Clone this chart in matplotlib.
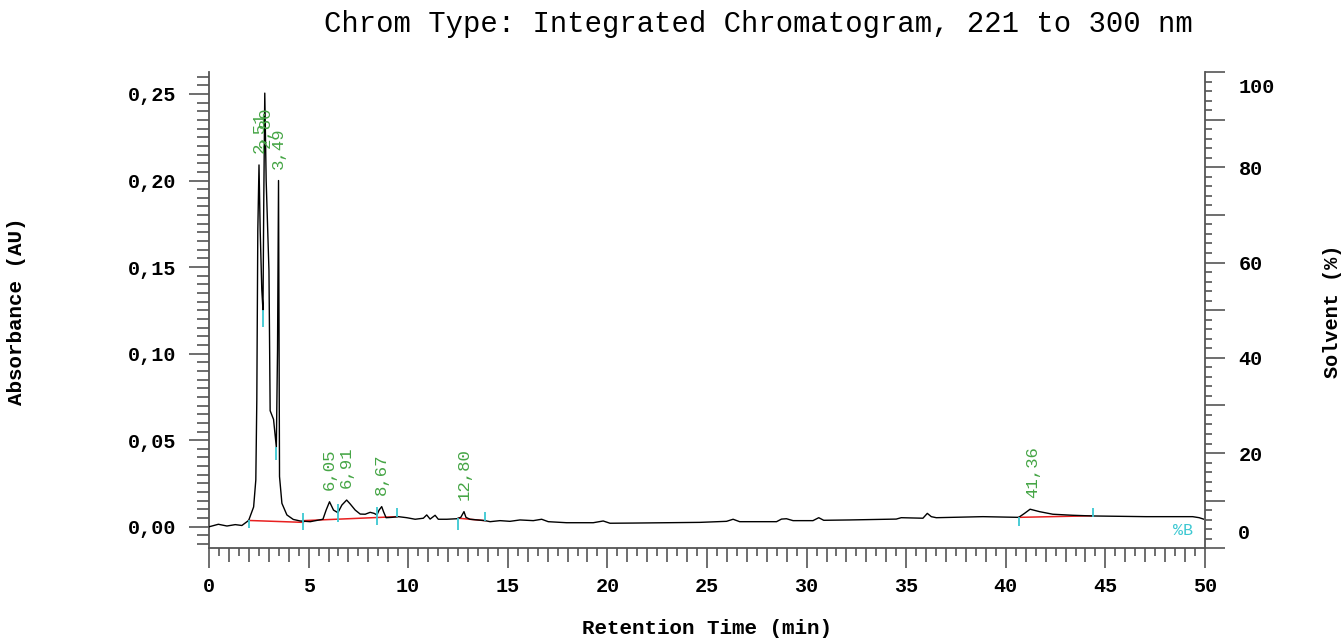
import numpy as np
import matplotlib
matplotlib.use("Agg")
import matplotlib.pyplot as plt
from matplotlib.ticker import MultipleLocator, FuncFormatter

# chromatogram trace (min, AU)
times = [0.02, 0.47, 0.90, 1.32, 1.65, 1.99, 2.24, 2.35, 2.40, 2.45,
         2.51, 2.57, 2.65, 2.71, 2.75, 2.80, 2.87, 3.01, 3.07, 3.24,
         3.38, 3.44, 3.49, 3.54, 3.66, 3.91, 4.23, 4.58, 5.08, 5.72,
         5.88, 6.05, 6.25, 6.47, 6.67, 6.91, 7.09, 7.34, 7.59, 7.84,
         8.09, 8.29, 8.43, 8.54, 8.67, 8.76, 8.89, 9.18, 9.51, 9.93,
         10.35, 10.76, 10.93, 11.10, 11.35, 11.51, 11.94, 12.44, 12.64, 12.80,
         12.90, 13.10, 13.86, 14.11, 14.61, 15.11, 15.61, 16.28, 16.70, 17.03,
         17.95, 19.29, 19.79, 20.13, 21.29, 24.64, 25.98, 26.31, 26.64, 28.49,
         28.74, 28.99, 29.32, 30.32, 30.61, 30.86, 32.16, 34.50, 34.75, 35.84,
         36.06, 36.26, 36.51, 38.85, 40.65, 40.94, 41.22, 41.69, 42.36, 43.36,
         44.36, 47.04, 49.38, 49.71, 49.92]
absorb = [0.0000, 0.0014, 0.0004, 0.0012, 0.0007, 0.0036, 0.0114, 0.0270, 0.0730, 0.1710,
          0.2090, 0.1710, 0.1370, 0.1250, 0.1890, 0.2505, 0.2000, 0.1480, 0.0670, 0.0620,
          0.0460, 0.1020, 0.2000, 0.0290, 0.0135, 0.0068, 0.0042, 0.0033, 0.0029, 0.0043,
          0.0096, 0.0144, 0.0096, 0.0081, 0.0125, 0.0154, 0.0131, 0.0096, 0.0073, 0.0072,
          0.0083, 0.0077, 0.0068, 0.0096, 0.0116, 0.0087, 0.0052, 0.0054, 0.0058, 0.0052,
          0.0043, 0.0049, 0.0068, 0.0044, 0.0066, 0.0043, 0.0043, 0.0046, 0.0054, 0.0087,
          0.0054, 0.0043, 0.0035, 0.0029, 0.0035, 0.0031, 0.0039, 0.0035, 0.0043, 0.0029,
          0.0023, 0.0023, 0.0033, 0.0020, 0.0021, 0.0025, 0.0031, 0.0043, 0.0029, 0.0029,
          0.0044, 0.0046, 0.0035, 0.0035, 0.0052, 0.0037, 0.0039, 0.0044, 0.0052, 0.0049,
          0.0077, 0.0058, 0.0052, 0.0058, 0.0054, 0.0077, 0.0101, 0.0087, 0.0072, 0.0066,
          0.0062, 0.0058, 0.0058, 0.0052, 0.0044]

# integration baselines: (t_start, a_start, t_end, a_end)
baselines = [(1.99, 0.0036, 4.74, 0.0025),
             (4.74, 0.0035, 9.44, 0.0058),
             (12.52, 0.0049, 13.86, 0.0035),
             (40.65, 0.0054, 44.36, 0.0063)]

# integration event marks: (t, a_low, a_high)
marks = [(1.99, -0.0008, 0.0039), (2.71, 0.1156, 0.1250), (3.38, 0.0385, 0.0460),
         (4.74, -0.0019, 0.0079), (6.50, 0.0029, 0.0131), (8.44, 0.0010, 0.0116),
         (9.46, 0.0056, 0.0108), (12.52, -0.0019, 0.0050), (13.86, 0.0033, 0.0085),
         (40.65, 0.0004, 0.0056), (44.36, 0.0056, 0.0108)]

peak_times = [2.51, 2.80, 3.49, 6.05, 6.91, 8.67, 12.80, 41.36]

W, H = 1341, 638
fig = plt.figure(figsize=(W / 100, H / 100), dpi=100)
ax = fig.add_axes([209 / W, 1 - 548.3 / H, (1205 - 209) / W, (548.3 - 72) / H])

mono = "Liberation Mono"
axis_col = "#555555"
green = "#45a545"
cyan = "#3cc8d2"

ax.plot(times, absorb, color="black", lw=1.0, zorder=3)
for t0, a0, t1, a1 in baselines:
    ax.plot([t0, t1], [a0, a1], color="#e82020", lw=1.1, zorder=2)
for t, lo, hi in marks:
    ax.vlines(t, lo, hi, color=cyan, lw=1.3, zorder=4)

for pt in peak_times:
    lab = f"{pt:.2f}".replace(".", ",")
    if pt == 2.80:
        ax.text(pt, 0.219, lab, rotation=90, ha="center", va="bottom",
                color=green, family=mono, fontsize=12.5)
    else:
        ax.annotate(lab, xy=(pt, np.interp(pt, times, absorb)), xytext=(0, 8.5),
                    textcoords="offset points", rotation=90, ha="center", va="bottom",
                    color=green, family=mono, fontsize=12.5)

ax.set_xlim(0, 50)
ax.set_ylim(-0.01248, 0.2627)

for s in ["top", "right"]:
    ax.spines[s].set_visible(False)
for s in ["left", "bottom"]:
    ax.spines[s].set_color(axis_col)
    ax.spines[s].set_linewidth(1.3)

ax.xaxis.set_major_locator(MultipleLocator(5))
ax.xaxis.set_minor_locator(MultipleLocator(1))
ax.yaxis.set_major_locator(MultipleLocator(0.05))
ax.yaxis.set_minor_locator(MultipleLocator(0.005))
ax.yaxis.set_major_formatter(FuncFormatter(lambda v, p: f"{v:.2f}".replace(".", ",").replace("-0,00", "0,00")))

ax.tick_params(axis="x", which="major", length=14.4, width=1.2, color=axis_col, pad=6.5)
ax.tick_params(axis="x", which="minor", length=10, width=1.2, color=axis_col)
ax.tick_params(axis="y", which="major", length=14.4, width=1.2, color=axis_col, pad=9.4)
ax.tick_params(axis="y", which="minor", length=8.6, width=1.2, color=axis_col)
for lbl in ax.get_xticklabels() + ax.get_yticklabels():
    lbl.set_family(mono)
    lbl.set_fontweight("bold")
    lbl.set_fontsize(14.5)

# half-minute ticks
sec = ax.secondary_xaxis("bottom")
sec.set_xticks(np.arange(0.5, 50, 1.0))
sec.set_xticklabels([])
sec.spines["bottom"].set_visible(False)
sec.tick_params(axis="x", length=5.8, width=1.2, color=axis_col)

# solvent axis
ax2 = ax.twinx()
ax2.set_ylim(0, 100)
for s in ["top", "left", "bottom"]:
    ax2.spines[s].set_visible(False)
ax2.spines["right"].set_color(axis_col)
ax2.spines["right"].set_linewidth(1.3)
ax2.yaxis.set_major_locator(MultipleLocator(10))
ax2.yaxis.set_minor_locator(MultipleLocator(2))
ax2.yaxis.set_major_formatter(FuncFormatter(
    lambda v, p: f"{v:.0f}" if (round(v) % 20 == 0 and 0 < round(v) < 100) else ""))
ax2.tick_params(axis="y", which="major", length=14.4, width=1.2, color=axis_col, pad=9.8)
ax2.tick_params(axis="y", which="minor", length=5, width=1.2, color=axis_col)
for lbl in ax2.get_yticklabels():
    lbl.set_family(mono)
    lbl.set_fontweight("bold")
    lbl.set_fontsize(14.5)
ax2.annotate("100", xy=(1, 100), xycoords=("axes fraction", "data"), xytext=(24, -4),
             textcoords="offset points", ha="left", va="top",
             family=mono, fontweight="bold", fontsize=14.5)
ax2.annotate("0", xy=(1, 0), xycoords=("axes fraction", "data"), xytext=(24, 4),
             textcoords="offset points", ha="left", va="bottom",
             family=mono, fontweight="bold", fontsize=14.5)

ax.text(0.988, 0.022, "%B", transform=ax.transAxes, ha="right", va="bottom",
        color=cyan, family=mono, fontsize=12)

fig.text(758 / W, 1 - 24 / H, "Chrom Type: Integrated Chromatogram, 221 to 300 nm",
         ha="center", va="center", family=mono, fontsize=20.8)
fig.text(17 / W, 1 - 311 / H, "Absorbance (AU)", rotation=90, ha="center", va="center",
         family=mono, fontweight="bold", fontsize=15)
fig.text(1333 / W, 1 - 311 / H, "Solvent (%)", rotation=90, ha="center", va="center",
         family=mono, fontweight="bold", fontsize=14.5)
fig.text(707 / W, 1 - 628 / H, "Retention Time (min)", ha="center", va="center",
         family=mono, fontweight="bold", fontsize=15)

fig.savefig("out.png", dpi=100)
